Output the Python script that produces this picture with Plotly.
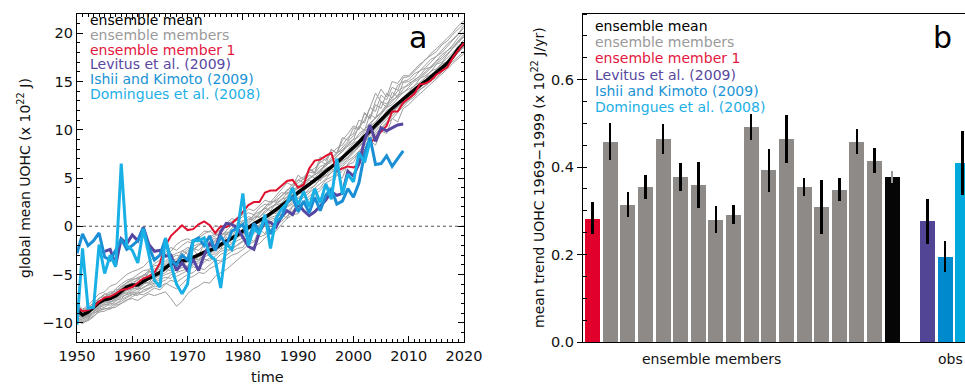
import plotly.graph_objects as go

# ---------------- panel a data ----------------
years = list(range(1950, 2021))

ens_mean = [-8.7, -9.2, -8.9, -8.4, -7.9, -7.6, -7.5, -7.2, -6.8, -6.3,
            -6.1, -6.1, -5.7, -5.4, -5.1, -4.8, -4.3, -3.9, -3.8, -3.6,
            -3.5, -3.2, -2.9, -2.7, -2.5, -2.3, -1.9, -1.6, -1.2, -0.9,
            -0.5, -0.1, 0.3, 0.6, 0.9, 1.3, 1.7, 2.1, 2.6, 3.0,
            3.5, 3.9, 4.4, 4.8, 5.2, 5.7, 6.1, 6.6, 7.1, 7.6,
            8.1, 8.7, 9.3, 9.9, 10.5, 11.1, 11.7, 12.2, 12.7, 13.2,
            13.7, 14.1, 14.6, 15.0, 15.5, 15.9, 16.4, 16.9, 17.6, 18.4, 19.0]

member_1 = [-8.4, -8.8, -8.7, -8.4, -7.8, -7.4, -7.3, -7.0, -6.6, -6.5,
            -6.3, -5.8, -5.4, -5.2, -4.8, -3.8, -2.0, -1.0, -0.4, 0.1,
            -0.4, -0.3, 0.2, 0.5, 0.1, -0.7, 0.0, -0.1, 0.3, 0.8,
            1.5, 2.2, 2.5, 2.5, 3.5, 3.7, 3.7, 4.2, 4.7, 4.8,
            4.0, 4.3, 6.0, 6.8, 6.9, 7.3, 7.6, 5.7, 6.0, 6.2,
            6.1, 6.4, 7.8, 8.6, 9.2, 9.7, 10.4, 11.9, 11.9, 12.8,
            13.3, 13.7, 14.7, 14.8, 15.1, 15.7, 16.1, 16.5, 17.5, 18.3, 19.0]

members = [
    [-9.3, -9.8, -9.5, -9.0, -8.8, -8.5, -8.6, -8.2, -8.0, -7.6,
     -7.5, -7.7, -7.3, -7.0, -7.2, -7.0, -6.8, -7.5, -8.3, -7.8,
     -7.0, -6.5, -6.2, -5.8, -5.9, -5.2, -4.8, -4.5, -4.0, -3.4,
     -3.0, -2.6, -2.0, -1.8, -1.2, -0.8, -0.5, 0.2, 0.8, 1.2,
     1.3, 2.4, 2.0, 3.3, 2.8, 4.2, 3.9, 5.4, 5.0, 6.5,
     7.0, 7.6, 8.1, 8.9, 9.4, 10.0, 10.7, 11.1, 11.8, 12.4,
     13.0, 13.4, 14.1, 14.6, 15.0, 15.8, 16.2, 16.7, 17.5, 18.0, 18.6],
    [-8.0, -8.6, -8.2, -7.6, -7.0, -6.8, -6.2, -6.0, -5.5, -5.0,
     -4.7, -4.5, -4.2, -3.6, -3.3, -3.0, -2.7, -2.2, -2.5, -2.0,
     -1.6, -1.8, -1.2, -0.8, -0.5, -0.9, -0.3, 0.2, 0.5, 0.9,
     1.2, 1.8, 1.6, 2.2, 2.7, 2.5, 3.2, 3.8, 4.5, 4.2,
     5.3, 4.8, 6.0, 5.6, 7.2, 6.8, 7.9, 7.6, 9.2, 8.9,
     10.2, 10.0, 11.8, 11.2, 13.0, 14.2, 13.4, 15.0, 14.8, 15.6,
     15.6, 16.2, 16.8, 17.2, 17.9, 18.4, 18.9, 19.5, 20.1, 20.8, 21.3],
    [-9.0, -9.5, -9.1, -8.6, -8.2, -7.8, -7.9, -7.5, -7.0, -6.6,
     -6.3, -6.6, -6.0, -5.8, -5.2, -5.0, -4.5, -4.6, -4.2, -3.7,
     -4.2, -3.0, -3.5, -2.6, -3.1, -1.9, -2.4, -1.1, -1.8, -0.7,
     -0.6, -0.2, 0.5, 0.3, 1.0, 1.5, 1.3, 2.2, 2.9, 3.3,
     3.4, 4.2, 4.8, 4.5, 5.5, 6.0, 6.2, 6.9, 7.3, 8.0,
     8.6, 8.9, 9.8, 10.4, 10.8, 11.6, 12.3, 12.6, 13.2, 13.9,
     14.2, 14.5, 15.3, 15.6, 16.0, 16.8, 17.0, 17.8, 18.5, 19.2, 19.6],
    [-8.4, -9.0, -8.8, -8.1, -7.4, -7.3, -7.0, -6.6, -6.5, -5.8,
     -5.5, -5.4, -5.2, -4.8, -4.4, -4.5, -3.8, -3.3, -3.0, -3.2,
     -2.6, -2.3, -2.5, -1.9, -1.6, -1.2, -1.5, -0.9, -0.4, -0.2,
     0.3, 0.8, 0.6, 1.2, 1.9, 1.6, 2.4, 2.8, 3.0, 3.8,
     4.1, 4.6, 5.3, 5.0, 5.8, 6.5, 6.8, 7.2, 7.9, 8.3,
     8.7, 9.6, 10.1, 10.5, 11.3, 11.8, 12.6, 13.1, 13.4, 14.2,
     14.8, 15.1, 15.6, 16.3, 16.5, 17.2, 17.8, 18.2, 18.8, 19.6, 20.2],
    [-9.8, -10.1, -9.7, -9.3, -8.9, -8.8, -8.5, -8.4, -8.0, -7.7,
     -7.3, -7.0, -7.1, -6.8, -6.4, -6.6, -6.0, -5.6, -5.8, -5.4,
     -5.0, -4.8, -4.3, -4.5, -4.0, -3.5, -3.6, -3.0, -2.6, -2.3,
     -2.2, -1.2, -1.6, -0.3, -0.8, 0.4, 0.1, 1.3, 0.8, 2.1,
     2.1, 2.6, 3.2, 3.6, 4.0, 4.8, 5.1, 5.5, 6.2, 6.8,
     7.2, 7.8, 8.5, 9.0, 9.7, 10.3, 10.8, 11.5, 12.0, 12.6,
     13.1, 13.6, 14.2, 14.5, 15.1, 15.4, 16.0, 16.5, 17.1, 17.6, 18.2],
    [-8.9, -9.3, -9.0, -8.7, -8.0, -7.9, -7.6, -7.4, -7.1, -6.9,
     -6.6, -6.2, -5.8, -5.9, -5.5, -4.9, -4.6, -4.0, -4.2, -3.9,
     -3.4, -3.6, -3.2, -2.5, -2.8, -2.2, -1.8, -2.0, -1.3, -0.8,
     -1.0, -0.3, 0.2, 0.0, 0.6, 1.2, 1.9, 1.7, 2.5, 2.9,
     3.3, 3.6, 4.3, 5.0, 4.7, 5.5, 6.3, 6.5, 7.0, 7.7,
     8.0, 8.9, 9.5, 9.8, 10.6, 11.0, 12.0, 12.3, 12.9, 13.4,
     13.9, 14.6, 14.9, 15.4, 16.1, 16.3, 16.9, 17.4, 18.0, 18.7, 19.3],
    [-8.6, -9.1, -8.5, -8.0, -7.6, -7.0, -7.2, -6.5, -6.0, -5.6,
     -5.4, -5.0, -4.6, -4.5, -3.9, -3.5, -2.9, -2.6, -1.9, -1.5,
     -1.3, -1.6, -1.1, -0.5, -0.6, 0.1, -0.2, 0.3, 0.8, 0.6,
     1.0, 1.4, 1.2, 1.9, 2.3, 2.2, 2.9, 3.5, 3.3, 4.1,
     4.5, 4.9, 5.6, 5.5, 6.2, 6.4, 7.1, 7.6, 7.9, 8.6,
     9.0, 10.4, 9.9, 11.6, 11.2, 12.9, 12.3, 13.9, 13.4, 14.9,
     15.0, 15.4, 16.1, 16.4, 17.0, 17.6, 18.0, 18.7, 19.3, 19.9, 20.6],
    [-9.5, -9.7, -9.2, -8.9, -8.5, -8.1, -8.2, -7.8, -7.3, -7.1,
     -6.9, -6.8, -6.3, -6.1, -5.9, -5.5, -5.3, -5.4, -4.8, -4.6,
     -4.4, -4.0, -3.8, -3.4, -3.6, -3.1, -2.6, -2.4, -2.5, -1.9,
     -1.5, -1.0, -0.8, -0.1, 0.4, 0.7, 0.9, 1.6, 2.0, 2.3,
     2.9, 3.4, 3.6, 4.3, 4.9, 5.2, 5.5, 6.3, 6.8, 7.1,
     7.9, 8.4, 8.7, 9.5, 10.1, 10.6, 11.2, 11.9, 12.3, 12.8,
     13.5, 13.9, 14.3, 15.0, 15.3, 15.8, 16.4, 16.8, 17.3, 18.1, 18.8],
    [-8.8, -9.4, -9.2, -8.5, -8.1, -7.7, -7.3, -7.1, -6.9, -6.4,
     -6.0, -6.1, -5.6, -5.2, -5.0, -4.6, -4.4, -4.1, -3.6, -3.4,
     -3.4, -2.4, -3.1, -1.8, -2.4, -1.5, -1.9, -0.7, -1.2, 0.0,
     0.0, 0.2, 0.9, 1.0, 1.4, 1.9, 2.2, 2.4, 3.1, 3.6,
     3.9, 4.5, 4.9, 5.3, 5.9, 6.2, 6.9, 7.5, 8.2, 8.8,
     9.4, 10.2, 11.0, 12.3, 13.8, 12.9, 12.7, 13.3, 14.0, 14.4,
     14.6, 15.2, 15.5, 16.0, 16.6, 17.1, 17.5, 18.2, 18.6, 19.3, 19.9],
    [-9.1, -9.6, -9.4, -8.8, -8.3, -8.0, -7.8, -7.6, -7.2, -6.7,
     -6.5, -6.4, -6.0, -5.5, -5.4, -5.1, -4.8, -4.3, -4.4, -4.0,
     -3.7, -3.3, -3.5, -3.0, -2.6, -2.7, -2.1, -1.8, -1.4, -1.2,
     -0.8, -0.4, 0.0, 0.5, 0.4, 1.1, 1.5, 2.0, 2.3, 2.7,
     3.2, 3.8, 4.1, 4.6, 5.1, 5.8, 6.0, 6.6, 7.2, 7.5,
     8.2, 8.6, 9.2, 10.0, 10.4, 11.2, 11.5, 12.1, 12.8, 13.1,
     13.8, 14.3, 14.7, 15.4, 15.7, 16.2, 16.8, 17.1, 17.8, 18.4, 19.0],
    [-8.2, -8.8, -8.6, -8.3, -7.8, -7.4, -7.0, -6.9, -6.3, -6.1,
     -5.8, -5.6, -5.0, -5.1, -4.7, -4.2, -4.0, -3.5, -3.4, -2.9,
     -2.4, -2.1, -1.8, -2.0, -1.3, -1.0, -0.7, -0.9, -0.2, 0.3,
     0.6, 0.4, 1.2, 1.5, 1.8, 2.4, 2.7, 3.1, 3.8, 4.0,
     4.8, 4.5, 5.9, 5.5, 6.8, 6.4, 8.0, 7.5, 8.9, 9.6,
     10.4, 10.1, 11.7, 11.1, 12.6, 12.2, 13.8, 13.3, 14.6, 15.0,
     15.2, 15.8, 16.1, 16.7, 17.3, 17.6, 18.3, 18.9, 19.4, 20.0, 20.8],
    [-9.6, -10.0, -9.6, -9.1, -8.6, -8.4, -8.0, -8.1, -7.6, -7.3,
     -7.0, -7.2, -6.6, -6.4, -6.0, -5.8, -5.6, -5.0, -5.2, -4.9,
     -4.6, -4.2, -4.4, -3.7, -3.3, -3.5, -2.9, -2.7, -2.2, -2.0,
     -1.6, -1.2, -0.5, -0.7, 0.1, 0.4, 0.8, 1.3, 1.5, 2.1,
     2.5, 3.0, 3.5, 3.9, 4.4, 4.9, 5.6, 5.9, 6.4, 7.0,
     7.5, 8.1, 8.8, 9.2, 9.9, 10.5, 11.1, 11.6, 12.4, 12.9,
     13.3, 13.8, 14.5, 14.8, 15.5, 16.0, 16.3, 17.0, 17.6, 18.2, 18.5],
    [-8.5, -9.2, -8.7, -8.2, -7.7, -7.5, -7.4, -7.0, -6.7, -6.2,
     -6.2, -5.4, -5.9, -4.6, -5.2, -3.9, -4.4, -3.3, -3.7, -2.5,
     -2.9, -2.5, -2.0, -1.7, -1.9, -1.4, -1.0, -0.6, -0.7, 0.1,
     0.2, 0.7, 1.1, 0.9, 1.6, 2.0, 2.3, 2.7, 3.5, 3.4,
     4.2, 4.4, 5.0, 5.4, 5.6, 6.4, 6.6, 7.3, 7.7, 8.4,
     9.0, 9.3, 10.0, 10.7, 11.2, 11.7, 12.4, 12.9, 13.6, 13.8,
     14.4, 15.0, 15.3, 15.9, 16.4, 16.9, 17.3, 17.9, 18.4, 19.0, 19.8],
    [-9.4, -9.9, -9.8, -9.4, -8.7, -8.6, -8.4, -8.0, -7.8, -7.4,
     -7.1, -6.9, -6.8, -6.5, -6.2, -6.3, -5.9, -6.2, -6.5, -6.0,
     -5.4, -5.2, -4.8, -4.9, -4.4, -4.1, -3.7, -3.4, -3.0, -2.8,
     -2.4, -1.9, -1.6, -1.1, -0.9, -0.4, 0.2, 0.5, 1.0, 1.6,
     1.9, 2.4, 2.9, 3.3, 3.7, 4.5, 4.8, 5.3, 5.7, 6.4,
     6.6, 7.8, 7.3, 8.9, 8.4, 9.9, 9.6, 11.2, 10.8, 12.2,
     12.6, 13.2, 13.7, 14.2, 14.7, 15.3, 15.7, 16.3, 16.9, 17.4, 17.9],
    [-8.3, -8.7, -8.4, -7.9, -7.5, -7.1, -6.8, -6.8, -6.2, -5.9,
     -5.6, -5.3, -5.1, -4.6, -4.1, -4.0, -3.6, -3.1, -2.8, -2.6,
     -2.2, -2.4, -1.9, -1.5, -1.1, -0.8, -1.0, -0.4, 0.1, 0.0,
     0.5, 1.0, 0.8, 1.4, 2.1, 2.6, 2.5, 3.2, 3.6, 4.4,
     4.8, 5.1, 5.7, 6.0, 6.6, 7.0, 7.5, 8.1, 8.4, 9.2,
     9.6, 11.0, 10.7, 12.3, 11.9, 13.6, 13.1, 14.4, 14.1, 15.4,
     15.5, 16.0, 16.6, 17.3, 17.7, 18.1, 18.8, 19.2, 19.9, 20.5, 21.0],
    [-9.2, -9.5, -9.3, -8.8, -8.4, -8.2, -7.9, -7.7, -7.5, -7.0,
     -6.8, -6.5, -6.4, -6.0, -5.7, -5.3, -5.0, -4.8, -4.5, -4.3,
     -4.1, -3.7, -3.6, -3.2, -2.9, -2.9, -2.4, -2.1, -1.8, -1.5,
     -1.2, -0.7, -0.4, 0.2, 0.2, 0.9, 1.1, 1.8, 2.1, 2.5,
     3.0, 3.2, 3.9, 4.2, 4.9, 5.3, 5.8, 6.1, 6.7, 7.2,
     7.7, 8.3, 9.0, 9.6, 10.2, 10.7, 11.4, 11.8, 12.5, 13.0,
     13.6, 14.0, 14.6, 15.1, 15.4, 16.0, 16.5, 17.0, 17.7, 18.3, 18.7],
]

levitus_years = list(range(1955, 2010))
levitus = [-2.6, -2.4, -4.0, -1.3, -1.8, -0.9, -1.5, -0.1, -1.9, -2.6,
           -2.5, -3.1, -3.0, -4.6, -3.8, -4.6, -3.4, -4.6, -3.0, -1.8,
           -2.3, -0.6, 0.3, 0.2, -0.2, -1.2, -2.1, -2.4, -0.6, 0.5,
           0.4, -0.1, 1.0, 1.6, 1.2, 2.3, 1.6, 1.1, 1.5, 2.1,
           2.7, 3.6, 3.2, 3.4, 5.7, 5.2, 6.5, 8.9, 10.5, 8.8,
           10.2, 9.9, 10.2, 10.5, 10.6]

ishii_years = list(range(1950, 2010))
ishii = [-2.8, -0.8, -2.0, -1.5, -0.7, -3.2, -3.5, -2.5, -1.3, -2.4,
         -2.0, -1.5, -0.2, -2.2, -3.5, -3.0, -1.3, -3.5, -4.0, -3.0,
         -3.5, -1.5, -1.2, -2.0, -1.0, -2.5, -1.0, -2.0, -0.5, -0.2,
         0.2, -1.5, 0.3, -0.5, 0.8, -0.8, 0.5, 0.9, 2.5, 3.0,
         1.5, 2.6, 1.4, 3.0, 1.6, 3.2, 3.9, 2.3, 2.6, 3.9,
         3.0, 4.5, 7.5, 9.2, 6.4, 6.5, 7.3, 6.2, 7.0, 7.8]

domingues_years = list(range(1950, 2004))
domingues = [-10.2, -2.3, -8.5, -8.4, -1.9, -4.9, -3.0, -4.2, 6.5, -2.0,
             -2.5, -3.8, -0.3, -3.0, -5.6, -6.3, -1.2, -4.0, -6.0, -7.0,
             -6.0, -1.5, -1.5, -1.2, -3.0, -3.5, -6.4, -1.8, -2.4, -0.5,
             3.4, -2.0, -0.2, -0.8, 1.2, -2.3, 0.8, 1.8, 2.4, 4.0,
             2.2, 3.6, 2.0, 3.9, 2.4, 4.4, 2.8, 7.0, 3.3, 5.4,
             4.6, 7.6, 6.6, 8.8]

# ---------------- panel b data ----------------
member_trend = [0.281, 0.458, 0.313, 0.355, 0.465, 0.378, 0.359, 0.279, 0.291,
                0.492, 0.394, 0.465, 0.355, 0.309, 0.348, 0.458, 0.414]
member_lo = [0.246, 0.416, 0.285, 0.327, 0.430, 0.345, 0.307, 0.249, 0.269,
             0.461, 0.343, 0.409, 0.334, 0.247, 0.323, 0.429, 0.386]
member_hi = [0.320, 0.500, 0.342, 0.381, 0.499, 0.409, 0.412, 0.311, 0.313,
             0.522, 0.442, 0.519, 0.375, 0.370, 0.375, 0.487, 0.443]
mean_trend, mean_lo, mean_hi = 0.378, 0.363, 0.391
obs_trend = [0.277, 0.195, 0.410]
obs_lo = [0.224, 0.159, 0.336]
obs_hi = [0.328, 0.230, 0.483]

legend_labels = ["ensemble mean", "ensemble members", "ensemble member 1",
                 "Levitus et al. (2009)", "Ishii and Kimoto (2009)",
                 "Domingues et al. (2008)"]

# ---------------- styles ----------------
C_GRAY_LINE = "#9e9e9e"
C_RED = "#e0102f"
C_BLACK = "#000000"
C_PURPLE = "#5646a0"
C_ISHII = "#1a8fd6"
C_DOM = "#19b0e6"
legend_colors = ["#000000", "#9a9a9a", "#e3173e", "#5848a0", "#1a93d6", "#1db0e6"]
BAR_GRAY = "#8e8a87"
BAR_RED = "#e0002b"
BAR_BLACK = "#060606"
BAR_OBS = ["#524596", "#0089cd", "#00a9dd"]
FONT = "DejaVu Sans"
W, H = 965, 388
TOP, BOT = 14, 342

fig = go.Figure()

for m in members:
    fig.add_trace(go.Scatter(x=years, y=m, mode="lines",
                             line=dict(color=C_GRAY_LINE, width=1),
                             xaxis="x", yaxis="y", hoverinfo="skip"))
fig.add_trace(go.Scatter(x=years, y=ens_mean, mode="lines",
                         line=dict(color=C_BLACK, width=3.5), xaxis="x", yaxis="y"))
fig.add_trace(go.Scatter(x=years, y=member_1, mode="lines",
                         line=dict(color=C_RED, width=2), xaxis="x", yaxis="y"))
fig.add_trace(go.Scatter(x=levitus_years, y=levitus, mode="lines",
                         line=dict(color=C_PURPLE, width=3), xaxis="x", yaxis="y"))
fig.add_trace(go.Scatter(x=ishii_years, y=ishii, mode="lines",
                         line=dict(color=C_ISHII, width=3), xaxis="x", yaxis="y"))
fig.add_trace(go.Scatter(x=domingues_years, y=domingues, mode="lines",
                         line=dict(color=C_DOM, width=3), xaxis="x", yaxis="y"))

# bars
n = len(member_trend)
def eb(vals, lo, hi, color):
    return dict(type="data", symmetric=False,
                array=[h - v for v, h in zip(vals, hi)],
                arrayminus=[v - l for v, l in zip(vals, lo)],
                color=color, thickness=2.5, width=0)

bw = 0.851
fig.add_trace(go.Bar(x=[0], y=member_trend[:1], width=bw, marker_color=BAR_RED,
                     marker_line_width=0, error_y=eb(member_trend[:1], member_lo[:1], member_hi[:1], "black"),
                     xaxis="x2", yaxis="y2"))
fig.add_trace(go.Bar(x=list(range(1, n)), y=member_trend[1:], width=bw, marker_color=BAR_GRAY,
                     marker_line_width=0, error_y=eb(member_trend[1:], member_lo[1:], member_hi[1:], "black"),
                     xaxis="x2", yaxis="y2"))
fig.add_trace(go.Bar(x=[n], y=[mean_trend], width=bw, marker_color=BAR_BLACK,
                     marker_line_width=0, error_y=eb([mean_trend], [mean_lo], [mean_hi], "#9a9a9a"),
                     xaxis="x2", yaxis="y2"))
for i in range(3):
    fig.add_trace(go.Bar(x=[n + 2 + i], y=[obs_trend[i]], width=bw, marker_color=BAR_OBS[i],
                         marker_line_width=0,
                         error_y=eb([obs_trend[i]], [obs_lo[i]], [obs_hi[i]], "black"),
                         xaxis="x2", yaxis="y2"))

tickfont = dict(family=FONT, size=14.5, color="#111111")
ax_common = dict(showgrid=False, zeroline=False, showline=True, linecolor="black",
                 linewidth=1.3, tickcolor="black", tickfont=tickfont, automargin=False)

fig.update_layout(
    width=W, height=H, margin=dict(l=0, r=0, t=TOP, b=H - BOT, autoexpand=False),
    paper_bgcolor="white", plot_bgcolor="white", showlegend=False, bargap=0,
    xaxis=dict(domain=[77 / W, 464 / W], range=[1950, 2020], tick0=1950, dtick=10,
               ticks="inside", ticklen=6, tickwidth=1.3, mirror="ticks",
               minor=dict(dtick=1, ticks="inside", ticklen=3, tickcolor="black"),
               anchor="y", **ax_common),
    yaxis=dict(domain=[0, 1], range=[-12, 22], tick0=0, dtick=5,
               ticks="inside", ticklen=6, tickwidth=1.3, mirror="ticks",
               minor=dict(dtick=1, ticks="inside", ticklen=3, tickcolor="black"),
               anchor="x", tickformat="d", **ax_common),
    xaxis2=dict(domain=[583 / W, 1.0], range=[-0.539, 21.13], showticklabels=False,
                ticks="", mirror=True, anchor="y2", **ax_common),
    yaxis2=dict(domain=[0, 1], range=[0, 0.75], tick0=0, dtick=0.2, tickformat=".1f",
                ticks="outside", ticklen=5, tickwidth=1.3,
                minor=dict(dtick=0.05, ticks="inside", ticklen=4, tickcolor="black"),
                anchor="x2", **ax_common),
)

# zero dotted line
fig.add_shape(type="line", xref="x", yref="y", x0=1950, x1=2020, y0=0, y1=0,
              line=dict(color="#555555", width=1, dash="dot"), layer="below")

def px(x):
    return x / W
def py(y):
    return (BOT - y) / (BOT - TOP)

ann = []
ya = [20, 34.8, 49.6, 64.4, 79.2, 94]
yb = [26, 42.2, 58.4, 74.6, 90.8, 107]
for lab, col, y1, y2 in zip(legend_labels, legend_colors, ya, yb):
    ann.append(dict(x=px(88), y=py(y1), text=lab, font=dict(family=FONT, size=14, color=col)))
    ann.append(dict(x=px(593), y=py(y2), text=lab, font=dict(family=FONT, size=14, color=col)))
for a in ann:
    a.update(xref="paper", yref="paper", xanchor="left", yanchor="middle", showarrow=False)

extra = [
    dict(x=px(418), y=py(38), text="a", font=dict(family=FONT, size=30, color="black")),
    dict(x=px(942), y=py(38), text="b", font=dict(family=FONT, size=30, color="black")),
    dict(x=px(267), y=py(377), text="time", font=dict(family=FONT, size=14.5, color="#111111")),
    dict(x=px(24), y=py(178), text="global mean UOHC (x 10<sup>22</sup> J)", textangle=-90,
         font=dict(family=FONT, size=14, color="#111111")),
    dict(x=px(538), y=py(178), text="mean trend UOHC 1969\u22121999 (x 10<sup>22</sup> J/yr)",
         textangle=-90, font=dict(family=FONT, size=14, color="#111111")),
    dict(x=px(711), y=py(359), text="ensemble members", font=dict(family=FONT, size=14, color="#111111")),
    dict(x=px(950), y=py(359), text="obs", font=dict(family=FONT, size=14, color="#111111")),
]
for a in extra:
    a.update(xref="paper", yref="paper", xanchor="center", yanchor="middle", showarrow=False)
    ann.append(a)
fig.update_layout(annotations=ann)

fig.write_html("out.html", config={"displayModeBar": False},
               post_script="document.body.style.margin='0';document.body.style.padding='0';")
